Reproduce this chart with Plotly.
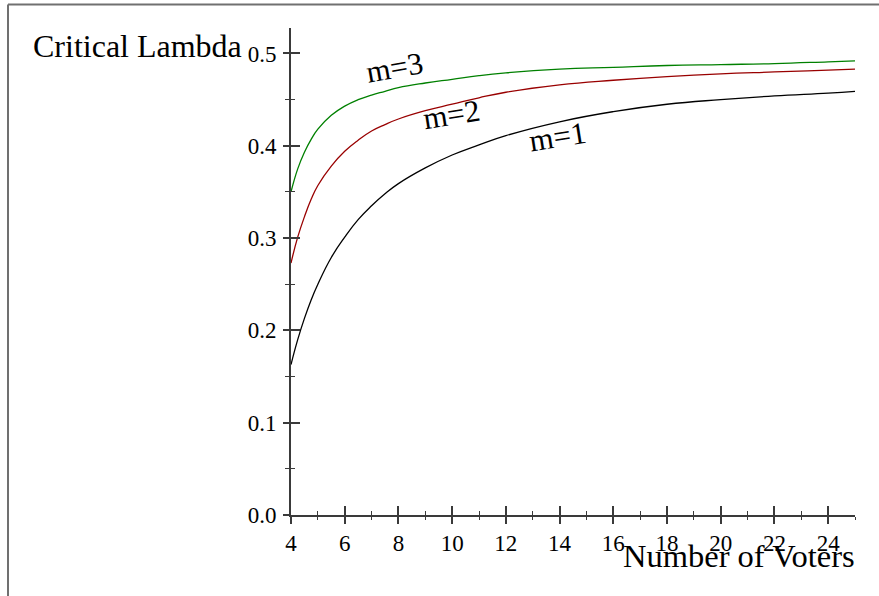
import plotly.graph_objects as go

# Data
voters = [4, 4.25, 4.5, 4.75, 5, 5.5, 6, 6.5, 7, 7.5, 8, 9, 10, 11, 12, 14, 16, 18, 20, 22, 24, 25]
lam_m1 = [0.163, 0.190, 0.213, 0.233, 0.250, 0.279, 0.301, 0.320, 0.335, 0.348, 0.359,
          0.376, 0.390, 0.401, 0.411, 0.426, 0.437, 0.445, 0.450, 0.454, 0.457, 0.459]
lam_m2 = [0.273, 0.301, 0.323, 0.342, 0.357, 0.378, 0.394, 0.406, 0.416, 0.423, 0.429,
          0.438, 0.445, 0.452, 0.458, 0.466, 0.471, 0.475, 0.478, 0.480, 0.482, 0.483]
lam_m3 = [0.350, 0.375, 0.393, 0.407, 0.418, 0.433, 0.443, 0.450, 0.455, 0.459, 0.463,
          0.468, 0.472, 0.476, 0.479, 0.483, 0.485, 0.487, 0.488, 0.489, 0.491, 0.492]

series_names = ["m=1", "m=2", "m=3"]
series_colors = ["#000000", "#990000", "#008000"]
x_tick_vals = [4, 6, 8, 10, 12, 14, 16, 18, 20, 22, 24]
y_tick_vals = [0.0, 0.1, 0.2, 0.3, 0.4, 0.5]
y_tick_text = ["0.0", "0.1", "0.2", "0.3", "0.4", "0.5"]

SERIF = "Liberation Serif, Times New Roman, serif"
AXC = "#3a3a3a"

fig = go.Figure()
for ys, name, col in zip([lam_m1, lam_m2, lam_m3], series_names, series_colors):
    fig.add_trace(go.Scatter(x=voters, y=ys, mode="lines", name=name,
                             line=dict(color=col, width=1.3, shape="spline", smoothing=1.3),
                             showlegend=False, hoverinfo="skip"))

# invisible trace to create the overlay axes (inner halves of crossing ticks)
fig.add_trace(go.Scatter(x=[voters[0]], y=[lam_m1[0]], xaxis="x2", yaxis="y2",
                         mode="markers", marker=dict(opacity=0), showlegend=False,
                         hoverinfo="skip"))

XR = [4, 25]
YR = [0, 0.5276]

fig.update_layout(
    width=879, height=596,
    margin=dict(l=291, r=24, t=28, b=81),
    paper_bgcolor="white", plot_bgcolor="white",
    font=dict(family=SERIF, color="black", size=23),
    xaxis=dict(range=XR, showgrid=False, zeroline=False, showline=True,
               linecolor=AXC, linewidth=1.6, ticks="outside", ticklen=7,
               tickwidth=1.5, tickcolor=AXC, tickvals=x_tick_vals,
               tickfont=dict(family=SERIF, size=23, color="black"),
               minor=dict(dtick=1, ticks="outside", ticklen=3, tickwidth=1.3,
                          tickcolor=AXC, showgrid=False),
               anchor="y"),
    yaxis=dict(range=YR, showgrid=False, zeroline=False, showline=True,
               linecolor=AXC, linewidth=1.6, ticks="outside", ticklen=6,
               tickwidth=1.5, tickcolor=AXC, tickvals=y_tick_vals, ticktext=y_tick_text,
               tickfont=dict(family=SERIF, size=23, color="black"),
               ticklabelstandoff=2,
               minor=dict(dtick=0.05, ticks="outside", ticklen=4, tickwidth=1.3,
                          tickcolor=AXC, showgrid=False),
               anchor="x"),
    xaxis2=dict(range=XR, overlaying="x", anchor="y2", side="bottom",
                showgrid=False, zeroline=False, showline=False, showticklabels=False,
                ticks="inside", ticklen=9, tickwidth=1.5, tickcolor=AXC,
                tickvals=x_tick_vals,
                minor=dict(dtick=1, ticks="inside", ticklen=4, tickwidth=1.3,
                           tickcolor=AXC, showgrid=False)),
    yaxis2=dict(range=YR, overlaying="y", anchor="x2", side="left",
                showgrid=False, zeroline=False, showline=False, showticklabels=False,
                ticks="inside", ticklen=9, tickwidth=1.5, tickcolor=AXC,
                tickvals=y_tick_vals,
                minor=dict(dtick=0.05, ticks="inside", ticklen=4, tickwidth=1.3,
                           tickcolor=AXC, showgrid=False)),
)

PW, PH = 564.0, 487.0  # plot area size in px


def px_to_paper(px, py):
    return (px - 291) / PW, (515 - py) / PH


# axis titles placed like the reference (paper coords)
tx, ty = px_to_paper(244, 46)
fig.add_annotation(text="Critical Lambda", x=tx, y=ty, xref="paper", yref="paper",
                   xanchor="right", yanchor="middle", showarrow=False,
                   font=dict(family=SERIF, size=32, color="black"))
tx, ty = px_to_paper(857, 556)
fig.add_annotation(text="Number of Voters", x=tx, y=ty, xref="paper", yref="paper",
                   xanchor="right", yanchor="middle", showarrow=False,
                   font=dict(family=SERIF, size=32.5, color="black"))

# curve labels
label_pos = [(13.94, 0.4106, -9), (9.96, 0.4334, -9), (7.85, 0.4843, -10)]
for name, (lx, ly, ang) in zip(series_names, label_pos):
    fig.add_annotation(text=name, x=lx, y=ly, xref="x", yref="y", showarrow=False,
                       textangle=ang, xanchor="center", yanchor="middle",
                       font=dict(family=SERIF, size=31, color="black"))

# outer frame (top and left edges)
fx, fy = px_to_paper(8, 4.5)
fx2, fy2 = px_to_paper(879, 600)
fig.add_shape(type="line", xref="paper", yref="paper", x0=fx, x1=fx2,
              y0=fy, y1=fy, line=dict(color="#707070", width=2))
fig.add_shape(type="line", xref="paper", yref="paper", x0=fx, x1=fx,
              y0=fy, y1=fy2, line=dict(color="#707070", width=2))

fig.write_html("out.html", config={"displayModeBar": False},
               post_script="document.body.style.margin='0';document.body.style.overflow='hidden';")
